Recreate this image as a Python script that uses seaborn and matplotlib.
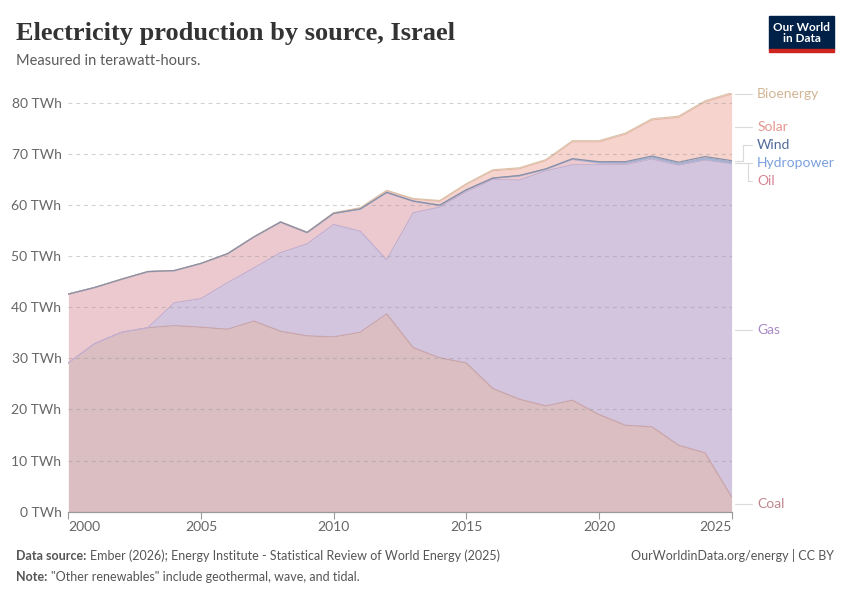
import numpy as np
import pandas as pd
import matplotlib
matplotlib.use("Agg")
import matplotlib.pyplot as plt
from matplotlib.patches import Rectangle
import seaborn as sns

# values (TWh)
years = list(range(2000, 2026))
sources = ['Coal', 'Gas', 'Oil', 'Hydropower', 'Wind', 'Solar', 'Bioenergy']
coal = [29.1, 32.9, 35.1, 36.0, 36.4, 36.1, 35.7, 37.3, 35.3, 34.4, 34.2, 35.1, 38.7,
        32.1, 30.1, 29.1, 24.1, 22.0, 20.7, 21.8, 19.0, 16.9, 16.6, 13.0, 11.5, 2.9]
gas = [0.0, 0.0, 0.0, 0.0, 4.5, 5.6, 9.1, 10.4, 15.4, 18.0, 22.0, 19.8, 10.6,
       26.4, 29.5, 33.5, 40.9, 42.9, 46.0, 46.1, 48.9, 51.0, 52.4, 54.8, 57.3, 65.2]
oil = [13.45, 10.95, 10.35, 10.95, 6.25, 6.85, 5.65, 6.05, 5.95, 2.2, 2.15, 4.3, 13.15,
       2.25, 0.35, 0.35, 0.25, 0.8, 0.3, 1.05, 0.37, 0.32, 0.27, 0.22, 0.22, 0.12]
hydro = [0.03] * 26
wind = [0.01, 0.01, 0.01, 0.01, 0.01, 0.01, 0.01, 0.01, 0.01, 0.01, 0.01, 0.01, 0.01,
        0.01, 0.01, 0.01, 0.02, 0.07, 0.07, 0.1, 0.2, 0.25, 0.3, 0.35, 0.45, 0.45]
solar = [0, 0, 0, 0, 0, 0, 0, 0.01, 0.03, 0.05, 0.08, 0.17, 0.3,
         0.38, 0.75, 1.05, 1.43, 1.3, 1.6, 3.3, 3.85, 5.35, 7.05, 8.75, 10.65, 13.05]
bio = [0, 0, 0, 0, 0, 0, 0, 0, 0.01, 0.02, 0.03, 0.05, 0.1,
       0.12, 0.15, 0.15, 0.17, 0.2, 0.2, 0.22, 0.25, 0.25, 0.25, 0.25, 0.25, 0.25]

fill_cols = ['#dabec1', '#d3c5de', '#ecc9ce', '#c9d7ee', '#a3b1c9', '#f6d3cc', '#efe1d2']
edge_cols = ['#c9a4a9', '#c1afd2', '#d6a9b1', '#9fb5da', '#8a8fa8', '#eab7ad', '#dcc5ab']
label_cols = ['#c0868e', '#a98bc5', '#d48592', '#7a9fdc', '#4f6a9a', '#e6958e', '#d2b595']

df = pd.DataFrame({'year': years, 'Coal': coal, 'Gas': gas, 'Oil': oil,
                   'Hydropower': hydro, 'Wind': wind, 'Solar': solar, 'Bioenergy': bio})
cum = df[sources].cumsum(axis=1)
cum['year'] = df['year']
long = cum.melt(id_vars='year', var_name='source', value_name='top')

sns.set_theme(style="white")
plt.rcParams['font.family'] = ['Lato', 'DejaVu Sans']

fig = plt.figure(figsize=(8.5, 6), dpi=100)
ax = fig.add_axes([0.0804, 0.1472, 0.7803, 0.6983])

prev = np.zeros(len(years))
for i, s in enumerate(sources):
    top = cum[s].values
    ax.fill_between(years, prev, top, color=fill_cols[i], linewidth=0, zorder=1)
    prev = top

# edges: wind drawn last so the thin top band reads dark like the original
line_order = ['Coal', 'Gas', 'Oil', 'Hydropower', 'Solar', 'Bioenergy', 'Wind']
line_pal = {s: edge_cols[sources.index(s)] for s in line_order}
sns.lineplot(data=long, x='year', y='top', hue='source', hue_order=line_order,
             palette=line_pal, linewidth=0.9, legend=False, ax=ax, zorder=2)

ax.set_xlim(2000, 2025)
ax.set_ylim(0, 82.0)
yt = list(range(0, 90, 10))
ax.set_yticks(yt)
ax.set_yticklabels([f'{v} TWh' for v in yt])
for v in yt[1:]:
    ax.axhline(v, color='#9a9a9a', lw=0.8, ls=(0, (3.5, 3.5)), alpha=0.45, zorder=3)
ax.set_xticks([2000, 2005, 2010, 2015, 2020, 2025])
ax.set_xticklabels(['2000', '2005', '2010', '2015', '2020', '2025'])
tl = ax.get_xticklabels()
tl[0].set_ha('left')
tl[-1].set_ha('right')
ax.tick_params(axis='x', length=5, width=0.8, color='#999999', colors='#666666',
               labelsize=10, pad=2, direction='out', bottom=True)
ax.tick_params(axis='y', length=0, colors='#666666', labelsize=10, pad=5)
for sp in ['left', 'right', 'top']:
    ax.spines[sp].set_visible(False)
ax.spines['bottom'].set_color('#999999')
ax.spines['bottom'].set_linewidth(0.9)
ax.spines['bottom'].set_zorder(4)
ax.set_xlabel('')
ax.set_ylabel('')
ax.patch.set_alpha(0)

# right-hand labels with leader lines
last = cum.iloc[-1]
lx0, lx1, ltext = 2025.13, 2025.77, 2025.96
lc = '#dadada'
lab_y = {'Bioenergy': 81.8, 'Solar': 75.2, 'Wind': 71.7, 'Hydropower': 68.2,
         'Oil': 64.7, 'Gas': 35.5, 'Coal': 1.45}
for i, s in enumerate(sources):
    ax.text(ltext, lab_y[s], s, color=label_cols[i], fontsize=10, va='center',
            ha='left', clip_on=False)
for s in ['Bioenergy', 'Solar', 'Hydropower', 'Gas', 'Coal']:
    ax.plot([lx0, lx1], [lab_y[s], lab_y[s]], color=lc, lw=0.8, clip_on=False)
ax.plot([lx0, 2025.42, 2025.42, lx1], [last['Wind'], last['Wind'], lab_y['Wind'], lab_y['Wind']],
        color=lc, lw=0.8, clip_on=False)
ax.plot([2025.61, 2025.61, lx1], [lab_y['Hydropower'], lab_y['Oil'], lab_y['Oil']],
        color=lc, lw=0.8, clip_on=False)

# header
fig.text(0.0188, 0.9333, 'Electricity production by source, Israel',
         family=['Liberation Serif', 'DejaVu Serif'], fontweight='bold',
         fontsize=19, color='#333333', va='baseline')
fig.text(0.0188, 0.8917, 'Measured in terawatt-hours.', fontsize=10.5,
         color='#5b5b5b', va='baseline')

# logo
fig.patches.append(Rectangle((0.9047, 0.9183), 0.0765, 0.055, transform=fig.transFigure,
                             color='#002147', zorder=5))
fig.patches.append(Rectangle((0.9047, 0.9133), 0.0765, 0.005, transform=fig.transFigure,
                             color='#ce261e', zorder=5))
fig.text(0.943, 0.9455, 'Our World\nin Data', color='white', fontsize=8.5,
         fontweight='bold', ha='center', va='center', linespacing=1.0, zorder=6)

# footer
fig.canvas.draw()
r = fig.canvas.get_renderer()
t1 = fig.text(0.0188, 0.0667, 'Data source:', fontsize=9, fontweight='bold',
              color='#555555', va='baseline')
bb = t1.get_window_extent(r)
fig.text(bb.x1 / fig.bbox.width + 0.004, 0.0667,
         'Ember (2026); Energy Institute - Statistical Review of World Energy (2025)',
         fontsize=9, color='#555555', va='baseline')
t2 = fig.text(0.0188, 0.0317, 'Note:', fontsize=9, fontweight='bold',
              color='#555555', va='baseline')
bb2 = t2.get_window_extent(r)
fig.text(bb2.x1 / fig.bbox.width + 0.004, 0.0317,
         '"Other renewables" include geothermal, wave, and tidal.',
         fontsize=9, color='#555555', va='baseline')
fig.text(0.9812, 0.0667, 'OurWorldinData.org/energy | CC BY', fontsize=9,
         color='#555555', va='baseline', ha='right')

fig.savefig('out.png', dpi=100)
